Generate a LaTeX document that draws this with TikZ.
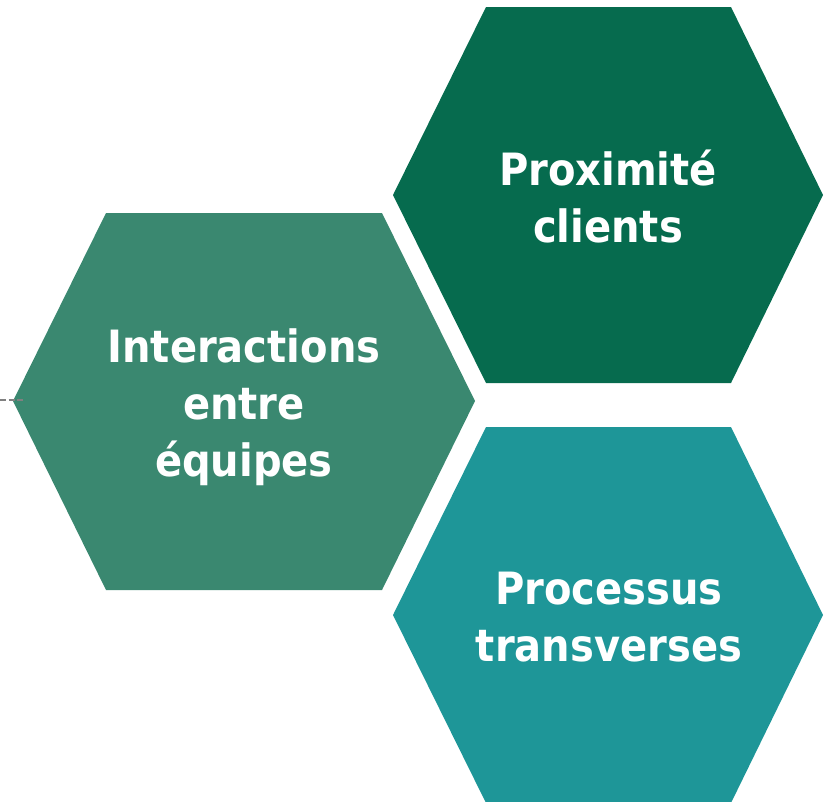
\documentclass[tikz,border=0pt]{standalone}
\usepackage{fontspec}
\setmainfont{DejaVu Sans Condensed}
\definecolor{hexdark}{RGB}{6, 107, 78}
\definecolor{hexmid}{RGB}{58, 136, 112}
\definecolor{hexteal}{RGB}{30, 150, 152}

\begin{document}
\begin{tikzpicture}[x=1pt, y=-1pt,
  hexlabel/.style={text=white, align=center, inner sep=0pt, font=\bfseries\fontsize{44.5}{57}\selectfont},
  stub/.style={draw=gray, line width=1.8pt, dash pattern=on 6pt off 2.5pt}
]
  \useasboundingbox (0,0) rectangle (825,801);

  % the three hexagons
  \fill[hexdark] (393,195) -- (486,7) -- (731,7) -- (823,195) -- (731,383) -- (486,383) -- cycle;
  \fill[hexmid] (13,401) -- (106,213) -- (382,213) -- (475,401) -- (382,590) -- (106,590) -- cycle;
  \fill[hexteal] (393,615) -- (486,427) -- (731,427) -- (823,615) -- (731,803) -- (486,803) -- cycle;

  \node[hexlabel] (prox) at (608, 197) {Proximité\\clients};
  \node[hexlabel] (inter) at (244, 407) {Interactions\\entre\\équipes};
  \node[hexlabel] (proc) at (609, 617) {Processus\\transverses};

  % dashed stub on the left
  \coordinate (stubstart) at (0, 400);
  \coordinate (stubend) at (23, 400);
  \draw[stub] (stubstart) -- (stubend);
\end{tikzpicture}
\end{document}
